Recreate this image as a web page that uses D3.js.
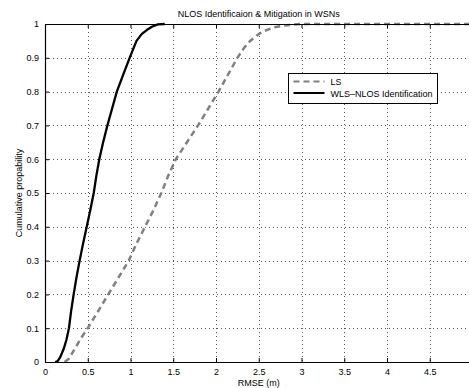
<!DOCTYPE html>
<html>
<head>
<meta charset="utf-8">
<script src="https://cdn.jsdelivr.net/npm/d3@7"></script>
<style>
  body { margin: 0; background: #fff; }
  svg { display: block; font-family: "Liberation Sans", Arial, sans-serif; }
</style>
</head>
<body>
<div id="container"></div>
<script>
// chart values
const titleText = 'NLOS Identificaion & Mitigation in WSNs';
const xLabel = 'RMSE (m)';
const yLabel = 'Cumulative propability';
const xTicks = [0, 0.5, 1, 1.5, 2, 2.5, 3, 3.5, 4, 4.5];
const yTicks = [0, 0.1, 0.2, 0.3, 0.4, 0.5, 0.6, 0.7, 0.8, 0.9, 1];
const seriesNames = ['LS', 'WLS\u2013NLOS Identification'];

// LS (grey dashed)
const lsX = [0.23, 0.28, 0.35, 0.42, 0.50, 0.62, 0.74, 0.86, 0.98, 1.07, 1.17, 1.27, 1.36, 1.44, 1.53, 1.66, 1.79, 1.91, 2.03, 2.14, 2.25, 2.33, 2.40, 2.50, 2.57, 2.68, 2.78, 2.98, 5];
const lsY = [0, 0.01, 0.04, 0.07, 0.10, 0.15, 0.20, 0.25, 0.30, 0.35, 0.40, 0.45, 0.50, 0.55, 0.60, 0.65, 0.70, 0.75, 0.80, 0.85, 0.90, 0.93, 0.95, 0.97, 0.98, 0.99, 0.995, 1, 1];

// WLS-NLOS identification (black solid)
const wlsX = [0.12, 0.15, 0.18, 0.22, 0.25, 0.28, 0.305, 0.335, 0.368, 0.405, 0.445, 0.488, 0.53, 0.57, 0.60, 0.635, 0.68, 0.73, 0.785, 0.84, 0.915, 0.99, 1.07, 1.13, 1.19, 1.25, 1.32, 1.40];
const wlsY = [0, 0.003, 0.015, 0.04, 0.065, 0.10, 0.15, 0.20, 0.25, 0.30, 0.35, 0.40, 0.45, 0.50, 0.55, 0.60, 0.65, 0.70, 0.75, 0.80, 0.85, 0.90, 0.95, 0.97, 0.982, 0.992, 0.999, 1];

const width = 469, height = 388;
const mLeft = 45, mRight = 472.5, mTop = 24, mBottom = 362;

const svg = d3.select('#container').append('svg')
  .attr('width', width).attr('height', height);

const xScale = d3.scaleLinear().domain([0, 5]).range([mLeft, mRight]);
const yScale = d3.scaleLinear().domain([0, 1]).range([mBottom, mTop]);

// grid
const grid = svg.append('g').attr('stroke', '#555').attr('stroke-width', 1)
  .attr('stroke-dasharray', '1,3').attr('shape-rendering', 'crispEdges');
grid.selectAll('.gx').data(xTicks.slice(1)).enter().append('line')
  .attr('x1', d => Math.round(xScale(d)) + 0.5).attr('x2', d => Math.round(xScale(d)) + 0.5)
  .attr('y1', mTop).attr('y2', mBottom);
grid.selectAll('.gy').data(yTicks.slice(1, -1)).enter().append('line')
  .attr('y1', d => Math.round(yScale(d)) + 0.5).attr('y2', d => Math.round(yScale(d)) + 0.5)
  .attr('x1', mLeft).attr('x2', mRight);

// curves
const line = d3.line().x(d => xScale(d[0])).y(d => yScale(d[1]));
svg.append('path').datum(lsX.map((x, i) => [x, lsY[i]]))
  .attr('d', line).attr('fill', 'none').attr('stroke', '#808080')
  .attr('stroke-width', 2.5).attr('stroke-dasharray', '6,4');
svg.append('path').datum(wlsX.map((x, i) => [x, wlsY[i]]))
  .attr('d', line).attr('fill', 'none').attr('stroke', '#000')
  .attr('stroke-width', 2.3).attr('stroke-linejoin', 'round');

// axes (matlab style, ticks inside)
const xAxis = svg.append('g').attr('transform', `translate(0,${mBottom})`)
  .call(d3.axisBottom(xScale).tickValues(xTicks).tickSizeInner(-4).tickSizeOuter(0)
    .tickPadding(7).tickFormat(d3.format('')));
const xTop = svg.append('g').attr('transform', `translate(0,${mTop})`)
  .call(d3.axisTop(xScale).tickValues(xTicks).tickSizeInner(-4).tickSizeOuter(0).tickFormat(''));
const yAxis = svg.append('g').attr('transform', `translate(${mLeft},0)`)
  .call(d3.axisLeft(yScale).tickValues(yTicks).tickSizeInner(-4).tickSizeOuter(0)
    .tickPadding(6).tickFormat(d3.format('')));
[xAxis, xTop, yAxis].forEach(g => {
  g.selectAll('path').attr('stroke', '#000').attr('stroke-width', 1.2);
  g.selectAll('line').attr('stroke', '#000');
  g.selectAll('text').attr('font-size', 9).attr('fill', '#000')
    .attr('font-family', '"Liberation Sans", Arial, sans-serif');
});

// titles
svg.append('text').attr('x', (mLeft + mRight) / 2).attr('y', 17)
  .attr('text-anchor', 'middle').attr('font-size', 9).text(titleText);
svg.append('text').attr('x', (mLeft + mRight) / 2).attr('y', 386)
  .attr('text-anchor', 'middle').attr('font-size', 9).text(xLabel);
svg.append('text').attr('transform', `translate(22,${(mTop + mBottom) / 2}) rotate(-90)`)
  .attr('text-anchor', 'middle').attr('font-size', 9).text(yLabel);

// legend
const lg = svg.append('g').attr('transform', 'translate(288.5,73.5)');
lg.append('rect').attr('width', 149).attr('height', 30)
  .attr('fill', '#fff').attr('stroke', '#000').attr('stroke-width', 1);
const styles = [
  { stroke: '#808080', dash: '6,4' },
  { stroke: '#000', dash: null }
];
seriesNames.forEach((name, i) => {
  const y = 8 + i * 11.5;
  lg.append('line').attr('x1', 5).attr('x2', 36).attr('y1', y).attr('y2', y)
    .attr('stroke', styles[i].stroke).attr('stroke-width', 2)
    .attr('stroke-dasharray', styles[i].dash);
  lg.append('text').attr('x', 42).attr('y', y + 3.5).attr('font-size', 9).text(name);
});
</script>
</body>
</html>
